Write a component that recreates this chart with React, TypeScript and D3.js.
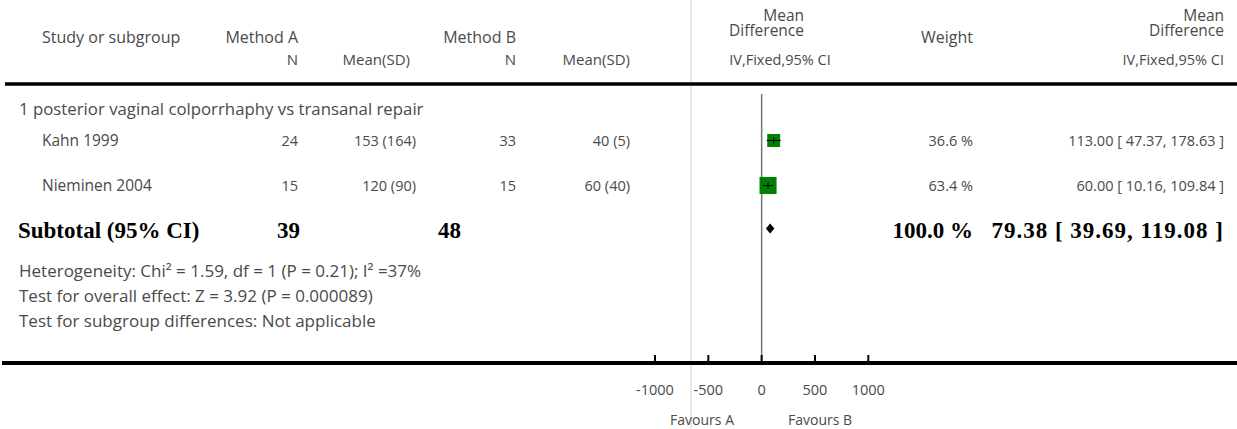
import React from "react";
import * as d3 from "d3";

const W = 1237;
const H = 429;

const subgroupTitle = "1 posterior vaginal colporrhaphy vs transanal repair";
const studies = ["Kahn 1999", "Nieminen 2004"];
const nA = [24, 15];
const meanSdA = ["153 (164)", "120 (90)"];
const nB = [33, 15];
const meanSdB = ["40 (5)", "60 (40)"];
const estimates = [113.0, 60.0];
const ciLow = [47.37, 10.16];
const ciHigh = [178.63, 109.84];
const weights = [36.6, 63.4];
const ciLabels = ["113.00 [ 47.37, 178.63 ]", "60.00 [ 10.16, 109.84 ]"];

const totalNA = 39;
const totalNB = 48;
const totalEst = 79.38;
const totalLow = 39.69;
const totalHigh = 119.08;
const totalWeightLabel = "100.0 %";
const totalCiLabel = "79.38 [ 39.69, 119.08 ]";

const footnotes = [
  "Heterogeneity: Chi² = 1.59, df = 1 (P = 0.21); I² =37%",
  "Test for overall effect: Z = 3.92 (P = 0.000089)",
  "Test for subgroup differences: Not applicable",
];

const tickValues = [-1000, -500, 0, 500, 1000];
const favoursLabels = ["Favours A", "Favours B"];

const FONT = "'Open Sans', Lato, sans-serif";
const TXT = "#4a4a4a";

export default function App() {
  const x = d3.scaleLinear().domain([-1000, 1000]).range([655, 868.3]);
  const size = d3.scaleSqrt().domain([0, 100]).range([0, 21.4]);
  const rowY = [140.5, 185.5];
  const totalY = 228.5;
  const axisY = 363;
  const num = 14.5;
  const hdr = 16;

  return (
    <svg width={W} height={H} style={{ display: "block", position: "absolute", left: 0, top: 0 }}>
      <rect width={W} height={H} fill="#fff" />
      {/* light separator */}
      <line x1={691} x2={691} y1={0} y2={H} stroke="#e2e2e2" strokeWidth={1.5} />

      <g fontFamily={FONT} fontSize={num} fill={TXT}>
        {/* header */}
        <text x={42} y={42.5} fontSize={hdr}>Study or subgroup</text>
        <text x={298} y={42.5} textAnchor="end" fontSize={hdr}>Method A</text>
        <text x={516} y={42.5} textAnchor="end" fontSize={hdr}>Method B</text>
        <text x={804} y={21} textAnchor="end" fontSize={15.5}>Mean</text>
        <text x={804} y={35.5} textAnchor="end" fontSize={15.5}>Difference</text>
        <text x={973} y={42.5} textAnchor="end" fontSize={hdr}>Weight</text>
        <text x={1224} y={21} textAnchor="end" fontSize={15.5}>Mean</text>
        <text x={1224} y={35.5} textAnchor="end" fontSize={15.5}>Difference</text>

        <text x={298} y={65} textAnchor="end" fontSize={15}>N</text>
        <text x={410} y={65} textAnchor="end" fontSize={15}>Mean(SD)</text>
        <text x={516} y={65} textAnchor="end" fontSize={15}>N</text>
        <text x={630} y={65} textAnchor="end" fontSize={15}>Mean(SD)</text>
        <text x={780} y={65} textAnchor="middle">IV,Fixed,95% CI</text>
        <text x={1224} y={65} textAnchor="end">IV,Fixed,95% CI</text>

        <text x={19} y={115} fontSize={16.8}>{subgroupTitle}</text>

        {studies.map((s, i) => (
          <g key={s}>
            <text x={42} y={rowY[i] + 5} fontSize={15.5}>{s}</text>
            <text x={298} y={rowY[i] + 5} textAnchor="end">{nA[i]}</text>
            <text x={416} y={rowY[i] + 5} textAnchor="end">{meanSdA[i]}</text>
            <text x={516} y={rowY[i] + 5} textAnchor="end">{nB[i]}</text>
            <text x={630} y={rowY[i] + 5} textAnchor="end">{meanSdB[i]}</text>
            <text x={973} y={rowY[i] + 5} textAnchor="end">{weights[i].toFixed(1)} %</text>
            <text x={1224} y={rowY[i] + 5} textAnchor="end">{ciLabels[i]}</text>
          </g>
        ))}

        {footnotes.map((f, i) => (
          <text key={i} x={19} y={277 + i * 25} fontSize={17}>{f}</text>
        ))}

        {tickValues.map((t) => (
          <text key={t} x={x(t)} y={395} textAnchor="middle">{t}</text>
        ))}
        <text x={734} y={425} textAnchor="end" fontSize={14}>{favoursLabels[0]}</text>
        <text x={788} y={425} fontSize={14}>{favoursLabels[1]}</text>
      </g>

      <g fontFamily="'Liberation Serif', 'Times New Roman', serif" fontWeight="bold" fontSize={23} fill="#000">
        <text x={18} y={238}>Subtotal (95% CI)</text>
        <text x={300} y={238} textAnchor="end">{totalNA}</text>
        <text x={461} y={238} textAnchor="end">{totalNB}</text>
        <text x={973} y={238} textAnchor="end">{totalWeightLabel}</text>
        <text x={1224} y={238} textAnchor="end" letterSpacing={1}>{totalCiLabel}</text>
      </g>

      {/* header rule */}
      <line x1={5} x2={W} y1={84} y2={84} stroke="#000" strokeWidth={3.5} />

      {/* zero line */}
      <line x1={x(0)} x2={x(0)} y1={94} y2={axisY} stroke="#777" strokeWidth={1.5} />

      {/* study marks */}
      {studies.map((s, i) => {
        const sz = size(weights[i]);
        const cx = x(estimates[i]);
        return (
          <g key={s}>
            <rect x={cx - sz / 2} y={rowY[i] - sz / 2} width={sz} height={sz} fill="#008000" />
            <line x1={x(ciLow[i])} x2={x(ciHigh[i])} y1={rowY[i]} y2={rowY[i]} stroke="#000" strokeWidth={1} />
            <line x1={cx} x2={cx} y1={rowY[i] - 3} y2={rowY[i] + 3} stroke="#000" strokeWidth={1} />
          </g>
        );
      })}

      {/* diamond */}
      <path
        d={`M${x(totalLow)},${totalY} L${x(totalEst)},${totalY - 5} L${x(totalHigh)},${totalY} L${x(totalEst)},${totalY + 5} Z`}
        fill="#000"
      />

      {/* axis */}
      <line x1={2} x2={W} y1={axisY} y2={axisY} stroke="#000" strokeWidth={4} />
      {tickValues.map((t) => (
        <line key={t} x1={x(t)} x2={x(t)} y1={355} y2={axisY} stroke="#000" strokeWidth={2} />
      ))}
    </svg>
  );
}
